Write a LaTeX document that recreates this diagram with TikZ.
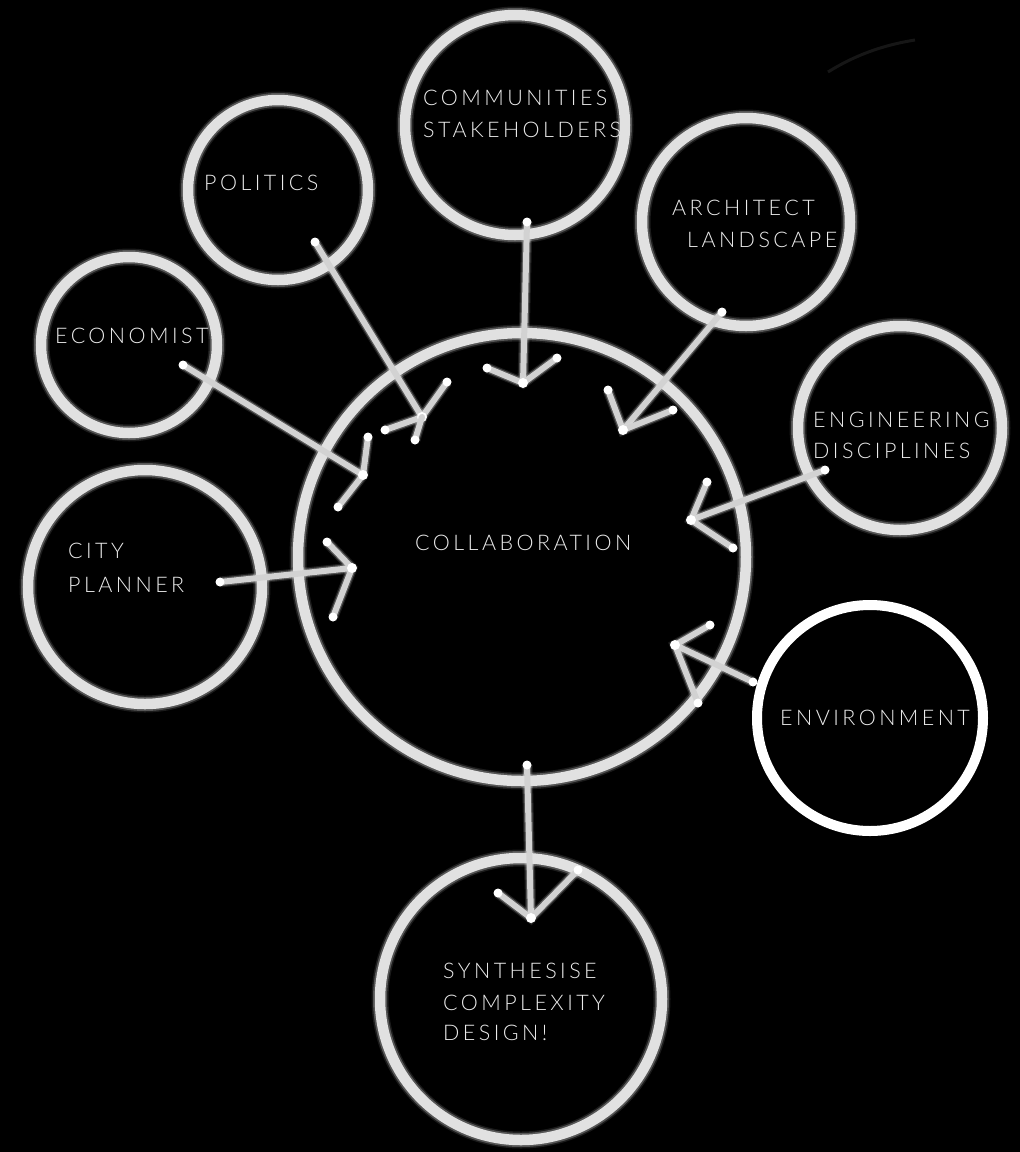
\documentclass[tikz,border=0pt]{standalone}
\usepackage{fontspec}
\IfFontExistsTF{Lato Light}{\newfontfamily\hand{Lato Light}[LetterSpace=16]}{\newfontfamily\hand{Lato}[LetterSpace=16]}
\definecolor{chalk}{RGB}{225,225,225}
\definecolor{chalkdim}{RGB}{210,210,210}
\definecolor{inkc}{RGB}{235,235,235}
\tikzset{
  ring/.style={circle, inner sep=0pt, outer sep=0pt,
    preaction={draw=chalk, line width=17pt, opacity=0.12},
    preaction={draw=chalk, line width=14pt, opacity=0.3},
    draw=chalk, line width=10.5pt},
  cleanring/.style={circle, inner sep=0pt, outer sep=0pt, draw=white, line width=10pt},
  lbl/.style={anchor=base west, inner sep=0pt, text=inkc, font=\hand\fontsize{21.5}{24}\selectfont},
  chalkline/.style={line cap=round, line join=round,
    preaction={draw=chalk, line width=11pt, opacity=0.12},
    preaction={draw=chalk, line width=8.5pt, opacity=0.3},
    draw=chalkdim, line width=6pt}
}
\newcommand{\chalkarrow}[4]{%
  \draw[chalkline] (#1) -- (#2);
  \draw[chalkline] (#3) -- (#2) -- (#4);
  \fill[white] (#1) circle (4.5pt) (#2) circle (5pt) (#3) circle (4.5pt) (#4) circle (4.5pt);
}
\begin{document}
\begin{tikzpicture}[x=1pt,y=-1pt]
\fill[black] (0,0) rectangle (1020,1152);
\useasboundingbox (0,0) rectangle (1020,1152);
% faint arc top right
\draw[draw={rgb,255:red,22;green,22;blue,22}, line width=3pt] (828,72) .. controls (860,52) and (890,44) .. (915,40);

% circles
\node[ring, minimum size=448pt] (collab) at (522,557) {};
\node[ring, minimum size=220pt] (comm) at (515,125) {};
\node[ring, minimum size=180pt] (pol) at (278,190) {};
\node[ring, minimum size=208pt] (arch) at (746,222) {};
\node[ring, minimum size=176pt] (econ) at (129,345) {};
\node[ring, minimum size=204pt] (eng) at (900,428) {};
\node[ring, minimum size=234pt] (city) at (145,587) {};
\node[cleanring, minimum size=226pt] (env) at (870,718) {};
\node[ring, minimum size=282pt] (syn) at (521,999) {};

% arrow coordinates
\coordinate (commT) at (527,222); \coordinate (commP) at (523,383);
\coordinate (commA) at (487,368); \coordinate (commB) at (557,358);
\coordinate (polT) at (315,242); \coordinate (polP) at (422,417);
\coordinate (polA) at (447,382); \coordinate (polB) at (385,430);
\coordinate (polC) at (415,440);
\coordinate (econT) at (183,365); \coordinate (econP) at (363,475);
\coordinate (econA) at (368,437); \coordinate (econB) at (338,507);
\coordinate (cityT) at (220,582); \coordinate (cityP) at (352,568);
\coordinate (cityA) at (327,542); \coordinate (cityB) at (333,617);
\coordinate (archT) at (722,312); \coordinate (archP) at (623,430);
\coordinate (archA) at (608,390); \coordinate (archB) at (673,410);
\coordinate (engT) at (825,470); \coordinate (engP) at (691,520);
\coordinate (engA) at (707,482); \coordinate (engB) at (733,548);
\coordinate (envT) at (753,682); \coordinate (envP) at (675,645);
\coordinate (envA) at (710,625); \coordinate (envB) at (698,703);
\coordinate (synT) at (527,765); \coordinate (synP) at (531,918);
\coordinate (synA) at (498,893); \coordinate (synB) at (578,870);

\chalkarrow{commT}{commP}{commA}{commB}
\chalkarrow{polT}{polP}{polA}{polB}
\draw[chalkline] (polP) -- (polC); \fill[white] (polC) circle (4.5pt);
\chalkarrow{econT}{econP}{econA}{econB}
\chalkarrow{cityT}{cityP}{cityA}{cityB}
\chalkarrow{archT}{archP}{archA}{archB}
\chalkarrow{engT}{engP}{engA}{engB}
\chalkarrow{envT}{envP}{envA}{envB}
\chalkarrow{synT}{synP}{synA}{synB}

% labels
\node[lbl] (tcollab) at (415,550) {COLLABORATION};
\node[lbl] (tcomm1) at (423,105) {COMMUNITIES};
\node[lbl] (tcomm2) at (423,137) {STAKEHOLDERS};
\node[lbl] (tpol) at (204,190) {POLITICS};
\node[lbl] (tarch1) at (672,215) {ARCHITECT};
\node[lbl] (tarch2) at (687,247) {LANDSCAPE};
\node[lbl] (tecon) at (55,343) {ECONOMIST};
\node[lbl] (teng1) at (813,427) {ENGINEERING};
\node[lbl] (teng2) at (813,458) {DISCIPLINES};
\node[lbl] (tcity1) at (68,558) {CITY};
\node[lbl] (tcity2) at (68,592) {PLANNER};
\node[lbl] (tenv) at (780,725) {ENVIRONMENT};
\node[lbl] (tsyn1) at (443,978) {SYNTHESISE};
\node[lbl] (tsyn2) at (443,1010) {COMPLEXITY};
\node[lbl] (tsyn3) at (443,1040) {DESIGN!};
\end{tikzpicture}
\end{document}
